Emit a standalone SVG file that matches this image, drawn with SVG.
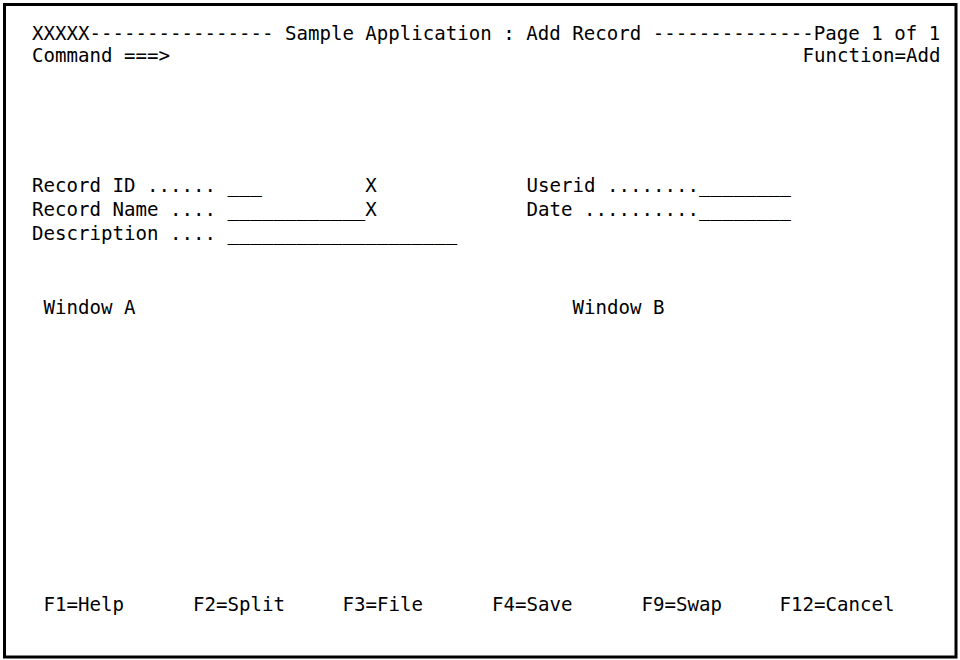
<svg xmlns="http://www.w3.org/2000/svg" width="960" height="660" viewBox="0 0 960 660" xml:space="preserve">
<style>
  .t { font-family: "DejaVu Sans Mono", "Liberation Mono", monospace; font-size: 19.1px; fill: #000; white-space: pre; }
  .frame { fill: #fff; stroke: #000; stroke-width: 3; }
</style>
<rect x="0" y="0" width="960" height="660" fill="#fff"/>
<rect class="frame" x="4.5" y="4.5" width="951.5" height="652.5"/>
<g id="header">
  <text class="t" x="32" y="40">XXXXX---------------- Sample Application : Add Record --------------Page 1 of 1</text>
  <text class="t" x="32" y="62">Command ===&gt;</text>
  <text class="t" x="940.5" y="62" text-anchor="end">Function=Add</text>
</g>
<g id="fields">
  <text class="t" x="32" y="192">Record ID ...... ___         X</text>
  <text class="t" x="32" y="216">Record Name .... ____________X</text>
  <text class="t" x="32" y="240">Description .... ____________________</text>
  <text class="t" x="526.5" y="192">Userid ........________</text>
  <text class="t" x="526.5" y="216">Date ..........________</text>
</g>
<g id="windowA"><text class="t" x="43.5" y="314">Window A</text></g>
<g id="windowB"><text class="t" x="572.5" y="314">Window B</text></g>
<g id="fkeys">
  <text class="t" x="43.5" y="611">F1=Help</text>
  <text class="t" x="193" y="611">F2=Split</text>
  <text class="t" x="342.5" y="611">F3=File</text>
  <text class="t" x="492" y="611">F4=Save</text>
  <text class="t" x="641.5" y="611">F9=Swap</text>
  <text class="t" x="779.5" y="611">F12=Cancel</text>
</g>
</svg>
